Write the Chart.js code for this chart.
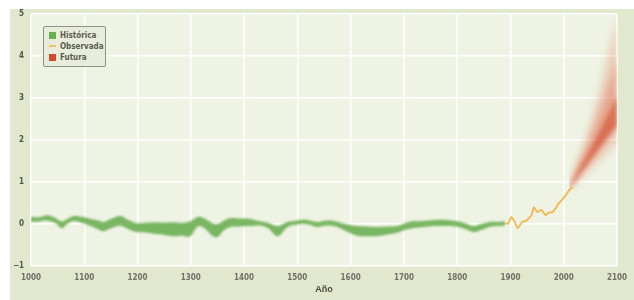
<!DOCTYPE html>
<html>
<head>
<meta charset="utf-8">
<script src="https://cdn.jsdelivr.net/npm/chart.js@4.4.0/dist/chart.umd.min.js"></script>
<style>
  body { margin: 0; background: #fff; }
  #wrap { position: relative; width: 634px; height: 300px; overflow: hidden; }
  #panel { position: absolute; left: 10px; top: 9px; right: 0; bottom: 0; background: #e2e8cd; }
  #tempChart { position: absolute; left: 0; top: 0; }
  #legend {
    position: absolute; left: 43px; top: 26px; width: 61px; height: 39px;
    border: 1px solid #8e9286; border-radius: 2px; background: #e8eddb;
    font: bold 8px "Liberation Sans Narrow", "DejaVu Sans Condensed", sans-serif; color: #5b5d52;
  }
  #legend .row { position: absolute; left: 5px; height: 10px; line-height: 10px; }
  #legend .sw { display: inline-block; width: 7px; height: 7px; vertical-align: -1px; margin-right: 4px; }
  #legend .ln { display: inline-block; width: 7px; height: 2px; vertical-align: 2px; margin-right: 4px; }
</style>
</head>
<body>
<div id="wrap">
  <div id="panel"></div>
  <canvas id="tempChart" width="634" height="300"></canvas>
  <div id="legend">
    <div class="row" style="top:4px"><span class="sw" style="background:#6aae52"></span>Histórica</div>
    <div class="row" style="top:15px"><span class="ln" style="background:#f1c060"></span>Observada</div>
    <div class="row" style="top:26px"><span class="sw" style="background:#d4492a"></span>Futura</div>
  </div>
</div>
<script>
// Histórica: banda de reconstrucción (superior / inferior)
const histYears = [1000, 1015, 1030, 1045, 1058, 1068, 1080, 1095, 1112, 1125, 1136, 1150, 1168, 1182,
  1198, 1215, 1235, 1250, 1267, 1285, 1298, 1310, 1317, 1330, 1340, 1350, 1362, 1375, 1392, 1412,
  1431, 1445, 1463, 1481, 1497, 1513, 1525, 1537, 1552, 1569, 1590, 1612, 1630, 1649, 1670, 1687,
  1709, 1737, 1767, 1798, 1815, 1830, 1845, 1860, 1875, 1890];
const histTop = [0.17, 0.16, 0.21, 0.15, 0.06, 0.12, 0.19, 0.17, 0.12, 0.09, 0.05, 0.12, 0.19, 0.10,
  0.02, 0.03, 0.04, 0.03, 0.04, 0.03, 0.06, 0.15, 0.17, 0.10, 0.02, 0.00, 0.08, 0.14, 0.13, 0.12,
  0.06, 0.03, -0.05, 0.05, 0.08, 0.10, 0.08, 0.05, 0.08, 0.07, 0.00, -0.05, -0.06, -0.07, -0.06, -0.05,
  0.05, 0.07, 0.10, 0.07, 0.02, -0.05, 0.00, 0.05, 0.05, 0.06];
const histBottom = [0.05, 0.06, 0.08, 0.03, -0.10, 0.00, 0.07, 0.03, -0.05, -0.12, -0.17, -0.10, -0.04, -0.12,
  -0.19, -0.20, -0.24, -0.26, -0.29, -0.28, -0.30, -0.10, -0.05, -0.15, -0.28, -0.31, -0.15, -0.07, -0.06, -0.05,
  -0.04, -0.10, -0.29, -0.08, -0.02, 0.00, -0.03, -0.07, -0.04, -0.05, -0.16, -0.28, -0.29, -0.29, -0.25, -0.21,
  -0.12, -0.07, -0.05, -0.06, -0.12, -0.19, -0.14, -0.07, -0.05, -0.04];

// Observada: registro instrumental
const obsYears = [1890, 1895, 1902, 1908, 1914, 1922, 1930, 1935, 1940, 1944, 1951, 1956, 1960, 1966,
  1972, 1979, 1985, 1990, 1997, 2003, 2010, 2016];
const obsValues = [0.02, 0.00, 0.17, 0.05, -0.10, 0.05, 0.08, 0.14, 0.22, 0.40, 0.28, 0.33, 0.31, 0.21,
  0.27, 0.28, 0.38, 0.48, 0.58, 0.67, 0.80, 0.88];

// Futura: abanico de proyecciones
const futureYears = [2010, 2020, 2030, 2040, 2050, 2060, 2070, 2080, 2090, 2100];
const fanTop    = [0.90, 1.30, 1.65, 2.00, 2.40, 2.85, 3.30, 3.85, 4.40, 4.95];
const fanUpper  = [0.88, 1.20, 1.48, 1.75, 2.05, 2.38, 2.72, 3.10, 3.50, 3.95];
const fanCoreHi = [0.87, 1.10, 1.33, 1.55, 1.78, 2.02, 2.27, 2.52, 2.78, 3.05];
const fanCoreLo = [0.83, 1.00, 1.18, 1.35, 1.52, 1.68, 1.85, 2.02, 2.18, 2.32];
const fanBottom = [0.82, 0.95, 1.07, 1.18, 1.30, 1.42, 1.55, 1.67, 1.80, 1.92];

const xTicks = [1000, 1100, 1200, 1300, 1400, 1500, 1600, 1700, 1800, 1900, 2000, 2100];
const yTicks = [-1, 0, 1, 2, 3, 4, 5];

const pts = (xs, ys) => xs.map((x, i) => ({ x: x, y: ys[i] }));

function edge(data) {
    return { data: data, borderWidth: 0, pointRadius: 0, fill: false, tension: 0.4, order: 20 };
}

// plot background
const plotBg = {
    id: 'plotBg',
    beforeDraw(chart) {
        const a = chart.chartArea, ctx = chart.ctx;
        ctx.save();
        ctx.fillStyle = '#eef3e3';
        ctx.fillRect(a.left - 1, a.top, a.right - a.left + 2, a.bottom - a.top);
        ctx.restore();
    }
};

// soft edges: blur the next dataset to be drawn if it asks for it
const softFill = {
    id: 'softFill',
    drawList(chart) {
        return chart.getSortedVisibleDatasetMetas().slice().reverse();
    },
    setFor(chart, meta) {
        const ds = meta ? chart.data.datasets[meta.index] : null;
        chart.ctx.filter = ds && ds.blur ? 'blur(' + ds.blur + 'px)' : 'none';
    },
    beforeDatasetsDraw(chart) {
        this.setFor(chart, this.drawList(chart)[0]);
    },
    afterDatasetDraw(chart, args) {
        const list = this.drawList(chart);
        const pos = list.findIndex(m => m.index === args.index);
        this.setFor(chart, list[pos + 1]);
    },
    afterDatasetsDraw(chart) {
        chart.ctx.filter = 'none';
    }
};

const tickFont = { family: '"Liberation Sans Narrow", "DejaVu Sans Condensed", sans-serif', size: 8, weight: 'bold' };

new Chart(document.getElementById('tempChart'), {
    type: 'line',
    data: {
        datasets: [
            edge(pts(histYears, histTop)),
            Object.assign(edge(pts(histYears, histBottom)), {
                fill: 0, backgroundColor: 'rgba(100,170,74,0.85)', blur: 1, order: 7
            }),
            edge(pts(futureYears, fanTop)),
            Object.assign(edge(pts(futureYears, fanBottom)), {
                fill: 2, backgroundColor: 'rgba(230,125,95,0.32)', blur: 3.5, order: 6
            }),
            edge(pts(futureYears, fanUpper)),
            Object.assign(edge(pts(futureYears, fanCoreLo)), {
                fill: 4, backgroundColor: 'rgba(222,98,62,0.36)', blur: 3, order: 5
            }),
            edge(pts(futureYears, fanCoreHi)),
            Object.assign(edge(pts(futureYears, fanCoreLo)), {
                fill: 6, backgroundColor: 'rgba(205,66,32,0.55)', blur: 2, order: 4
            }),
            {
                data: pts(obsYears, obsValues),
                borderColor: '#f0b852',
                borderWidth: 1.8,
                pointRadius: 0,
                fill: false,
                tension: 0.15,
                order: 0
            }
        ]
    },
    options: {
        responsive: false,
        animation: false,
        events: [],
        layout: { padding: { left: 0, top: 14, right: 11, bottom: 5 } },
        plugins: { legend: { display: false }, tooltip: { enabled: false } },
        scales: {
            x: {
                type: 'linear',
                min: 1000,
                max: 2100,
                afterBuildTicks: axis => { axis.ticks = xTicks.map(v => ({ value: v })); },
                afterFit: axis => { axis.height = 29; },
                grid: { color: '#ffffff', lineWidth: 1.5, drawTicks: false },
                border: { display: false },
                ticks: { font: tickFont, color: '#707066', padding: 7, maxRotation: 0, callback: v => String(v) },
                title: {
                    display: true, text: 'Año', color: '#4a4a42', padding: { top: 0, bottom: 0 },
                    font: { family: '"Liberation Sans", sans-serif', size: 9, weight: 'bold' }
                }
            },
            y: {
                min: -1,
                max: 5,
                afterBuildTicks: axis => { axis.ticks = yTicks.map(v => ({ value: v })); },
                afterFit: axis => { axis.width = 31; },
                grid: { color: '#ffffff', lineWidth: 1.5, drawTicks: false },
                border: { display: false },
                ticks: { font: tickFont, color: '#55564c', padding: 7, callback: v => (v < 0 ? '\u2212' + Math.abs(v) : String(v)) }
            }
        }
    },
    plugins: [plotBg, softFill]
});
</script>
</body>
</html>
